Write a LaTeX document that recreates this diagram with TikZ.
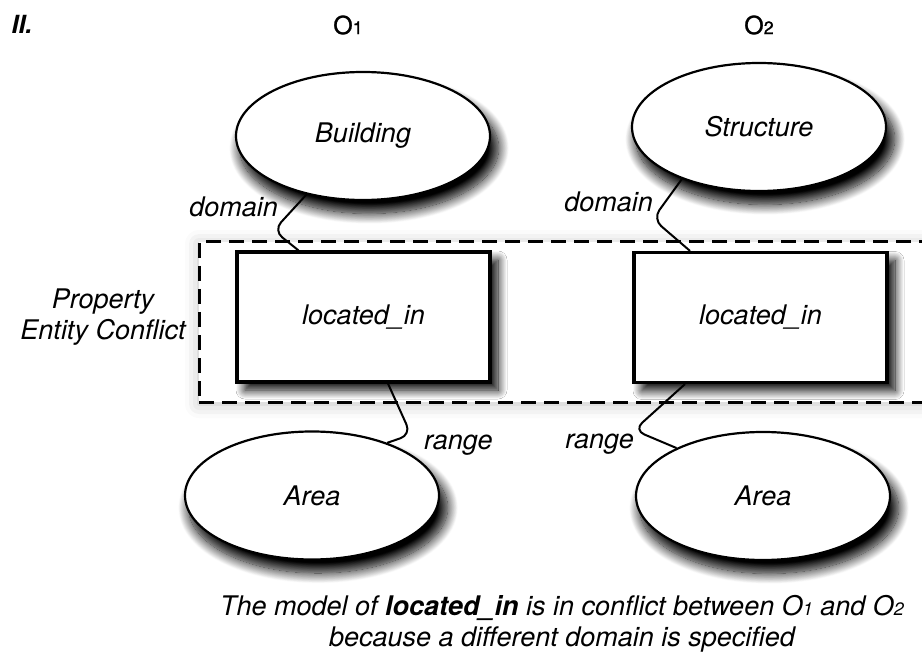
\documentclass[tikz,border=0pt]{standalone}
\usepackage{fontspec}
\setmainfont{TeX Gyre Heros}
\newfontfamily\headfont[FakeBold=1.2]{TeX Gyre Heros}
\usetikzlibrary{shapes.geometric,shadows.blur}

% small digit that sits on the baseline, as in O1 / O2
\newcommand{\ontoidx}[2]{#1{\fontsize{18}{18}\selectfont #2}}

\begin{document}
\begin{tikzpicture}[x=1pt,y=1pt,
  every node/.style={font=\fontsize{27}{31}\selectfont\itshape},
  entity/.style={ellipse, draw, line width=2.2pt, fill=white,
    minimum width=254pt, minimum height=128pt, inner sep=0pt,
    blur shadow={shadow xshift=6pt, shadow yshift=-12pt, shadow scale=1.02,
      shadow blur radius=10pt, shadow blur steps=16, shadow opacity=100}},
  property/.style={rectangle, draw, line width=3.2pt, fill=white,
    minimum width=253pt, minimum height=130pt, inner sep=0pt,
    blur shadow={shadow xshift=8pt, shadow yshift=-8pt,
      shadow blur radius=9pt, shadow blur steps=16, shadow opacity=100}},
  group/.style={rectangle, draw, line width=3pt, dash pattern=on 15pt off 8pt,
    fill=white, minimum width=736pt, minimum height=160pt, inner sep=0pt,
    blur shadow={shadow xshift=0pt, shadow yshift=-2pt,
      shadow blur radius=14pt, shadow opacity=25}},
  link/.style={line width=2pt, rounded corners=11pt},
  lbl/.style={inner sep=0pt},
  heading/.style={inner sep=0pt, font=\fontsize{25}{25}\selectfont\headfont}
]
\useasboundingbox (0,0) rectangle (922,-658);
\clip (0,0) rectangle (922,-658);

% conflict frame (runs off the right edge)
\node[group] (pec) at (567,-322) {};
\node[lbl, align=center] (pectext) at (103,-317) {Property\\Entity Conflict};

% headings
\node[inner sep=0pt, font=\fontsize{25}{25}\selectfont\bfseries\itshape] (part) at (22,-24) {II.};
\node[heading] (o1) at (348,-25) {\ontoidx{O}{1}};
\node[heading] (o2) at (759,-25) {\ontoidx{O}{2}};

% classes and properties
\node[entity] (bld) at (363,-136) {Building};
\node[entity] (str) at (759,-127) {Structure};
\node[property] (p1) at (363.5,-317) {located\_in};
\node[property] (p2) at (760.5,-317.5) {located\_in};
\node[entity] (a1) at (312,-495.5) {Area};
\node[entity] (a2) at (763,-496) {Area};

% domain / range links
\draw[link] (bld.-134) -- ++(-33,-36) -- ([xshift=-65pt]p1.north);
\draw[link] ([xshift=24.5pt]p1.south) -- ++(23,-51) -- (a1.35);
\draw[link] (str.-146) -- ++(-29,-40) -- ([xshift=-70.5pt]p2.north);
\draw[link] ([xshift=-75.5pt]p2.south) -- ++(-51,-46) -- (a2.151);

\node[lbl, anchor=base east] (d1) at (278,-217) {domain};
\node[lbl, anchor=base east] (d2) at (653,-212) {domain};
\node[lbl, anchor=base west] (r1) at (424,-449) {range};
\node[lbl, anchor=base east] (r2) at (634,-448) {range};

% caption
\node[lbl, align=center] (cap) at (562,-624)
  {The model of \textbf{located\_in} is in conflict between \ontoidx{O}{1} and \ontoidx{O}{2}\\
   because a different domain is specified};
\end{tikzpicture}
\end{document}
